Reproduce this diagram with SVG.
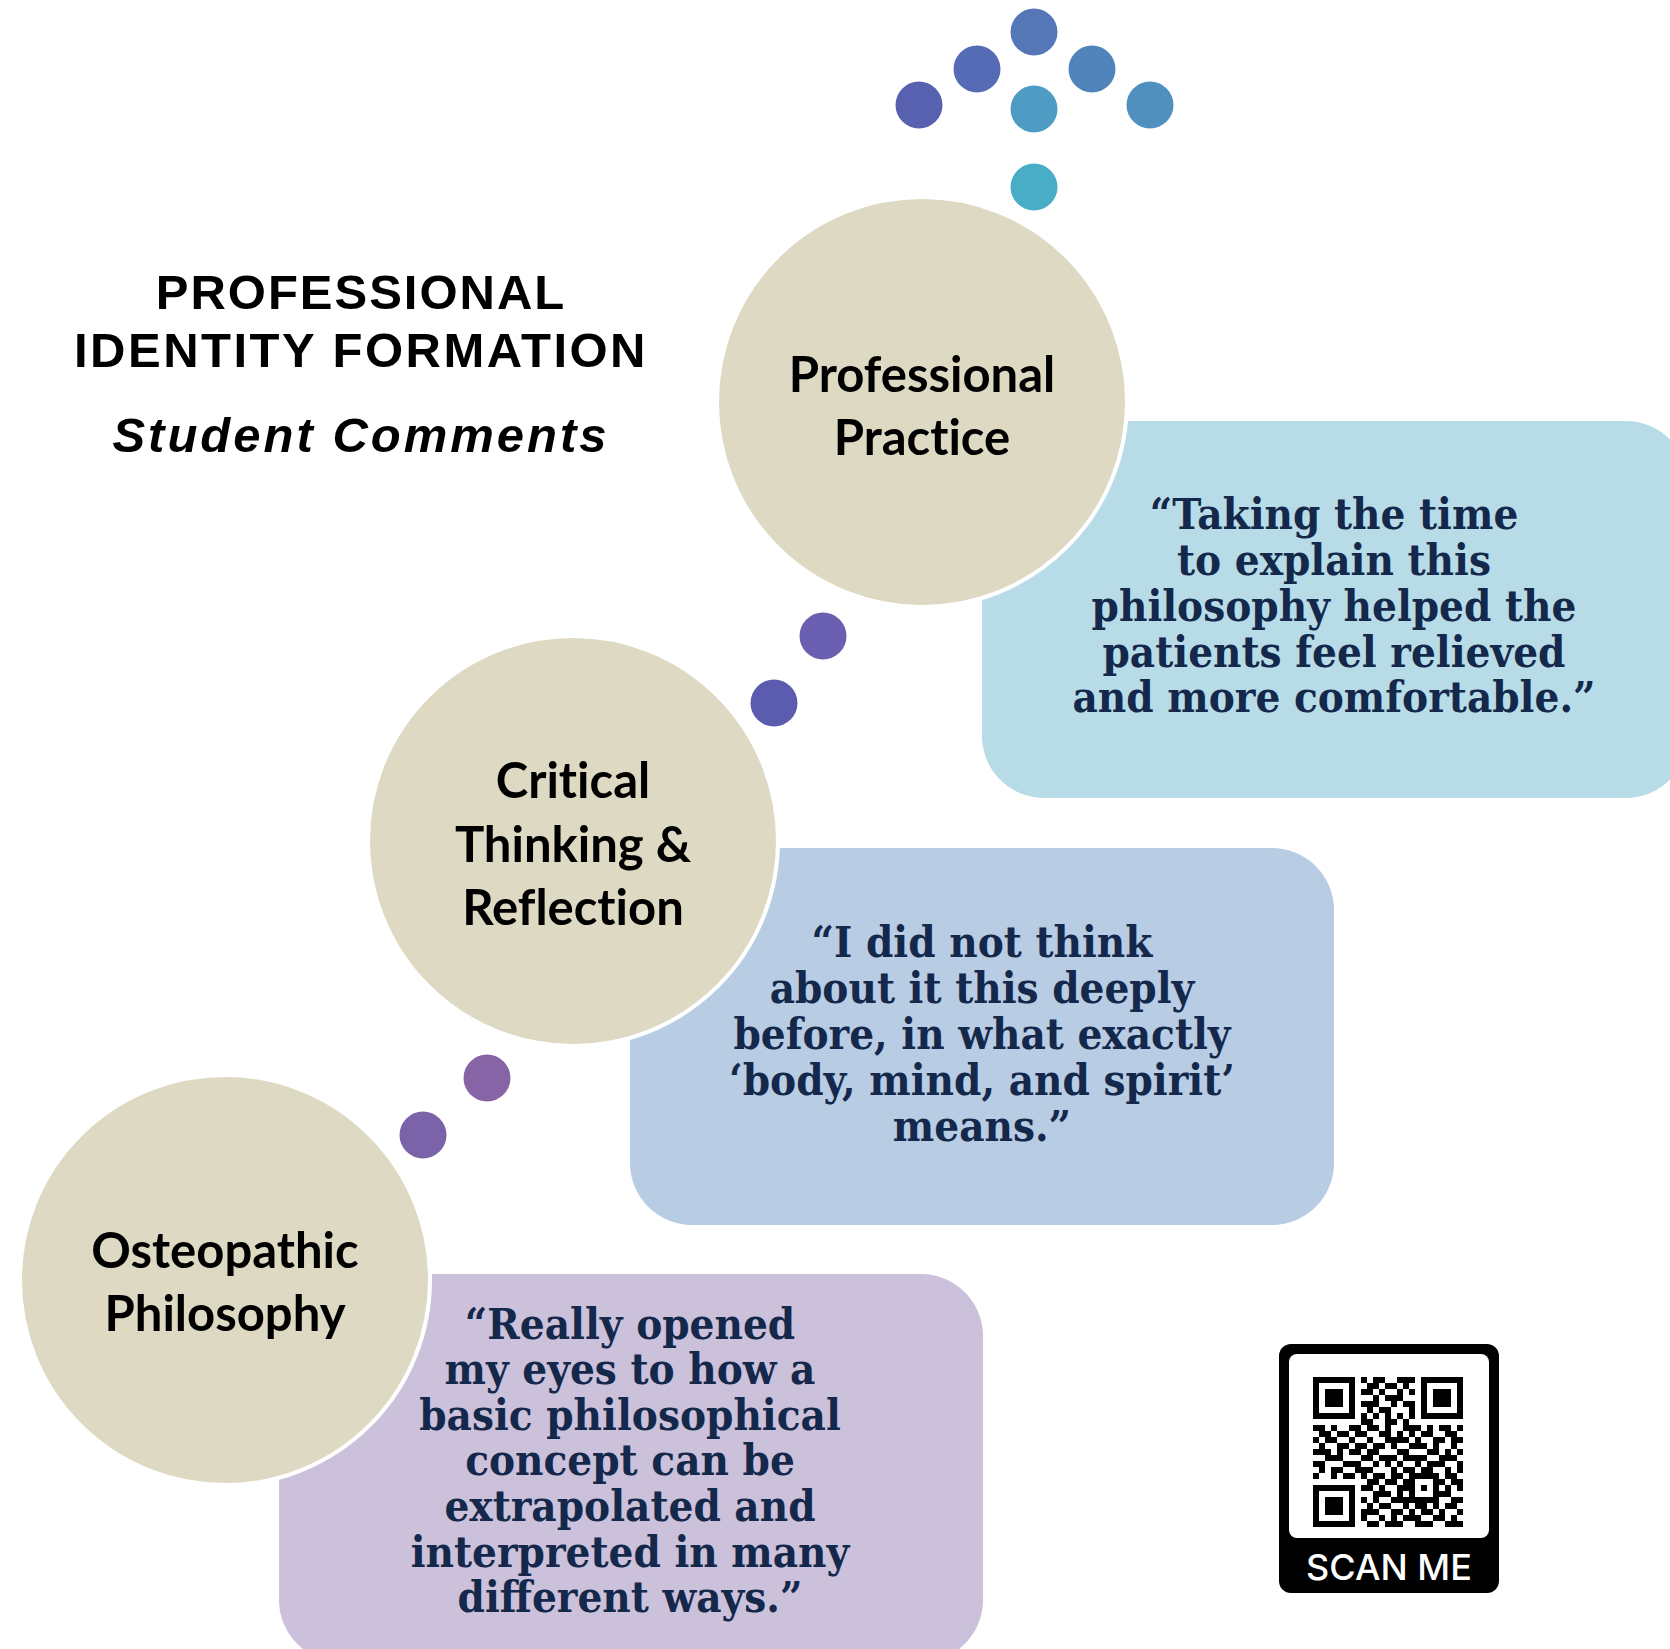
<svg xmlns="http://www.w3.org/2000/svg" width="1670" height="1649" viewBox="0 0 1670 1649">
<style>
.title{font-family:"Liberation Sans",Arial,sans-serif;font-weight:bold;font-size:49px;fill:#000;text-anchor:middle}
.circ{fill:#ddd9c3;stroke:#fff;stroke-width:4}
.lbl{font-family:Lato,"Noto Sans",sans-serif;font-weight:bold;font-size:49px;fill:#000;text-anchor:middle;font-variant-ligatures:none;font-feature-settings:"liga" 0}
.quote{font-family:"DejaVu Serif Condensed","DejaVu Serif",serif;font-stretch:condensed;font-weight:bold;font-size:43.5px;fill:#14284b;text-anchor:middle}
</style>
<rect width="1670" height="1649" fill="#fff"/>
<g id="title">
<text class="title" x="361" y="309" letter-spacing="2">PROFESSIONAL</text>
<text class="title" x="361" y="367" letter-spacing="2.5">IDENTITY FORMATION</text>
<text class="title" x="361" y="452" font-style="italic" letter-spacing="3">Student Comments</text>
</g>
<g id="top-dots">
<circle cx="1034" cy="32" r="23.5" fill="#5577b8"/>
<circle cx="977" cy="69" r="23.5" fill="#566bb5"/>
<circle cx="1092" cy="69" r="23.5" fill="#5083ba"/>
<circle cx="919" cy="105" r="23.5" fill="#5860b0"/>
<circle cx="1034" cy="109" r="23.5" fill="#4e9cc3"/>
<circle cx="1150" cy="105" r="23.5" fill="#5090bf"/>
<circle cx="1034" cy="187" r="23.5" fill="#4aadc7"/>
</g>
<g id="connectors">
<circle cx="823" cy="636" r="23.5" fill="#6a5fb0"/>
<circle cx="774" cy="703" r="23.5" fill="#5b5bb0"/>
<circle cx="487" cy="1078" r="23.5" fill="#8764a6"/>
<circle cx="423" cy="1135" r="23.5" fill="#7a63a8"/>
</g>
<g id="quote-practice">
<rect x="982" y="421" width="706" height="377" rx="62" fill="#b7dce7"/>
<text class="quote" x="1334"><tspan x="1334" y="529">“Taking the time</tspan><tspan x="1334" y="575">to explain this</tspan><tspan x="1334" y="621">philosophy helped the</tspan><tspan x="1334" y="667">patients feel relieved</tspan><tspan x="1334" y="712">and more comfortable.”</tspan></text>
</g>
<g id="node-practice">
<circle class="circ" cx="922" cy="402" r="205"/>
<text class="lbl"><tspan x="922" y="392">Professional</tspan><tspan x="922" y="455">Practice</tspan></text>
</g>
<g id="quote-critical">
<rect x="630" y="848" width="704" height="377" rx="62" fill="#b8cce4"/>
<text class="quote"><tspan x="982" y="957">“I did not think</tspan><tspan x="982" y="1003">about it this deeply</tspan><tspan x="982" y="1049">before, in what exactly</tspan><tspan x="982" y="1095">‘body, mind, and spirit’</tspan><tspan x="982" y="1141">means.”</tspan></text>
</g>
<g id="node-critical">
<circle class="circ" cx="573" cy="841" r="205"/>
<text class="lbl"><tspan x="573" y="798">Critical</tspan><tspan x="573" y="862">Thinking &amp;</tspan><tspan x="573" y="925">Reflection</tspan></text>
</g>
<g id="quote-osteopathic">
<rect x="279" y="1274" width="704" height="388" rx="62" fill="#ccc1da"/>
<text class="quote"><tspan x="630" y="1339">“Really opened</tspan><tspan x="630" y="1384">my eyes to how a</tspan><tspan x="630" y="1430">basic philosophical</tspan><tspan x="630" y="1475">concept can be</tspan><tspan x="630" y="1521">extrapolated and</tspan><tspan x="630" y="1567">interpreted in many</tspan><tspan x="630" y="1612">different ways.”</tspan></text>
</g>
<g id="node-osteopathic">
<circle class="circ" cx="225" cy="1280" r="205"/>
<text class="lbl"><tspan x="225" y="1268">Osteopathic</tspan><tspan x="225" y="1331">Philosophy</tspan></text>
</g>
<g id="qr-code">
<rect x="1279" y="1344" width="220" height="249" rx="12" fill="#000"/>
<rect x="1289" y="1354" width="200" height="184" rx="8" fill="#fff"/>
<g transform="translate(1313,1377) scale(6)" fill="#000" shape-rendering="crispEdges">
<path d="M0 0h7v1h-7zM8 0h1v1h-1zM10 0h2v1h-2zM14 0h3v1h-3zM18 0h7v1h-7z
M0 1h1v1h-1zM6 1h1v1h-1zM9 1h2v1h-2zM12 1h2v1h-2zM15 1h1v1h-1zM18 1h1v1h-1zM24 1h1v1h-1z
M0 2h1v1h-1zM2 2h3v1h-3zM6 2h1v1h-1zM8 2h2v1h-2zM11 2h1v1h-1zM14 2h1v1h-1zM16 2h1v1h-1zM18 2h1v1h-1zM20 2h3v1h-3zM24 2h1v1h-1z
M0 3h1v1h-1zM2 3h3v1h-3zM6 3h1v1h-1zM10 3h1v1h-1zM12 3h3v1h-3zM18 3h1v1h-1zM20 3h3v1h-3zM24 3h1v1h-1z
M0 4h1v1h-1zM2 4h3v1h-3zM6 4h1v1h-1zM8 4h3v1h-3zM13 4h1v1h-1zM15 4h2v1h-2zM18 4h1v1h-1zM20 4h3v1h-3zM24 4h1v1h-1z
M0 5h1v1h-1zM6 5h1v1h-1zM9 5h1v1h-1zM11 5h2v1h-2zM16 5h1v1h-1zM18 5h1v1h-1zM24 5h1v1h-1z
M0 6h7v1h-7zM8 6h1v1h-1zM10 6h1v1h-1zM12 6h1v1h-1zM14 6h1v1h-1zM16 6h1v1h-1zM18 6h7v1h-7z
M8 7h2v1h-2zM12 7h2v1h-2zM15 7h1v1h-1z
M0 8h2v1h-2zM3 8h1v1h-1zM6 8h2v1h-2zM9 8h2v1h-2zM12 8h1v1h-1zM15 8h3v1h-3zM19 8h1v1h-1zM21 8h2v1h-2zM24 8h1v1h-1z
M1 9h2v1h-2zM4 9h2v1h-2zM7 9h2v1h-2zM11 9h2v1h-2zM14 9h1v1h-1zM16 9h1v1h-1zM18 9h2v1h-2zM22 9h2v1h-2z
M0 10h1v1h-1zM2 10h2v1h-2zM6 10h1v1h-1zM9 10h1v1h-1zM12 10h4v1h-4zM17 10h1v1h-1zM20 10h2v1h-2zM23 10h2v1h-2z
M1 11h1v1h-1zM4 11h2v1h-2zM7 11h2v1h-2zM10 11h2v1h-2zM13 11h1v1h-1zM16 11h3v1h-3zM20 11h1v1h-1zM23 11h1v1h-1z
M0 12h3v1h-3zM4 12h1v1h-1zM6 12h2v1h-2zM9 12h2v1h-2zM14 12h2v1h-2zM19 12h2v1h-2zM22 12h1v1h-1zM24 12h1v1h-1z
M2 13h3v1h-3zM8 13h2v1h-2zM11 13h3v1h-3zM15 13h4v1h-4zM21 13h3v1h-3z
M0 14h2v1h-2zM5 14h3v1h-3zM10 14h1v1h-1zM12 14h1v1h-1zM14 14h1v1h-1zM17 14h1v1h-1zM19 14h3v1h-3zM24 14h1v1h-1z
M1 15h1v1h-1zM3 15h2v1h-2zM7 15h3v1h-3zM13 15h1v1h-1zM15 15h2v1h-2zM18 15h2v1h-2zM22 15h1v1h-1zM24 15h1v1h-1z
M0 16h1v1h-1zM3 16h1v1h-1zM5 16h2v1h-2zM8 16h1v1h-1zM10 16h2v1h-2zM13 16h2v1h-2zM16 16h5v1h-5zM22 16h2v1h-2z
M9 17h2v1h-2zM12 17h2v1h-2zM15 17h2v1h-2zM20 17h2v1h-2zM23 17h2v1h-2z
M0 18h7v1h-7zM8 18h2v1h-2zM11 18h1v1h-1zM14 18h3v1h-3zM18 18h1v1h-1zM20 18h1v1h-1zM22 18h1v1h-1zM24 18h1v1h-1z
M0 19h1v1h-1zM6 19h1v1h-1zM10 19h3v1h-3zM14 19h1v1h-1zM16 19h1v1h-1zM20 19h3v1h-3z
M0 20h1v1h-1zM2 20h3v1h-3zM6 20h1v1h-1zM8 20h1v1h-1zM10 20h1v1h-1zM13 20h8v1h-8zM23 20h2v1h-2z
M0 21h1v1h-1zM2 21h3v1h-3zM6 21h1v1h-1zM9 21h1v1h-1zM11 21h2v1h-2zM15 21h1v1h-1zM17 21h2v1h-2zM20 21h1v1h-1zM22 21h2v1h-2z
M0 22h1v1h-1zM2 22h3v1h-3zM6 22h1v1h-1zM8 22h3v1h-3zM13 22h2v1h-2zM16 22h1v1h-1zM18 22h2v1h-2zM21 22h1v1h-1zM24 22h1v1h-1z
M0 23h1v1h-1zM6 23h1v1h-1zM8 23h1v1h-1zM11 23h1v1h-1zM13 23h1v1h-1zM15 23h3v1h-3zM20 23h2v1h-2zM23 23h1v1h-1z
M0 24h7v1h-7zM9 24h2v1h-2zM12 24h3v1h-3zM17 24h3v1h-3zM22 24h3v1h-3z"/>
</g>
<text x="1389" y="1580" font-family="Inter,'Noto Sans',sans-serif" font-weight="500" font-size="36" fill="#fff" text-anchor="middle">SCAN ME</text>
</g>
</svg>
